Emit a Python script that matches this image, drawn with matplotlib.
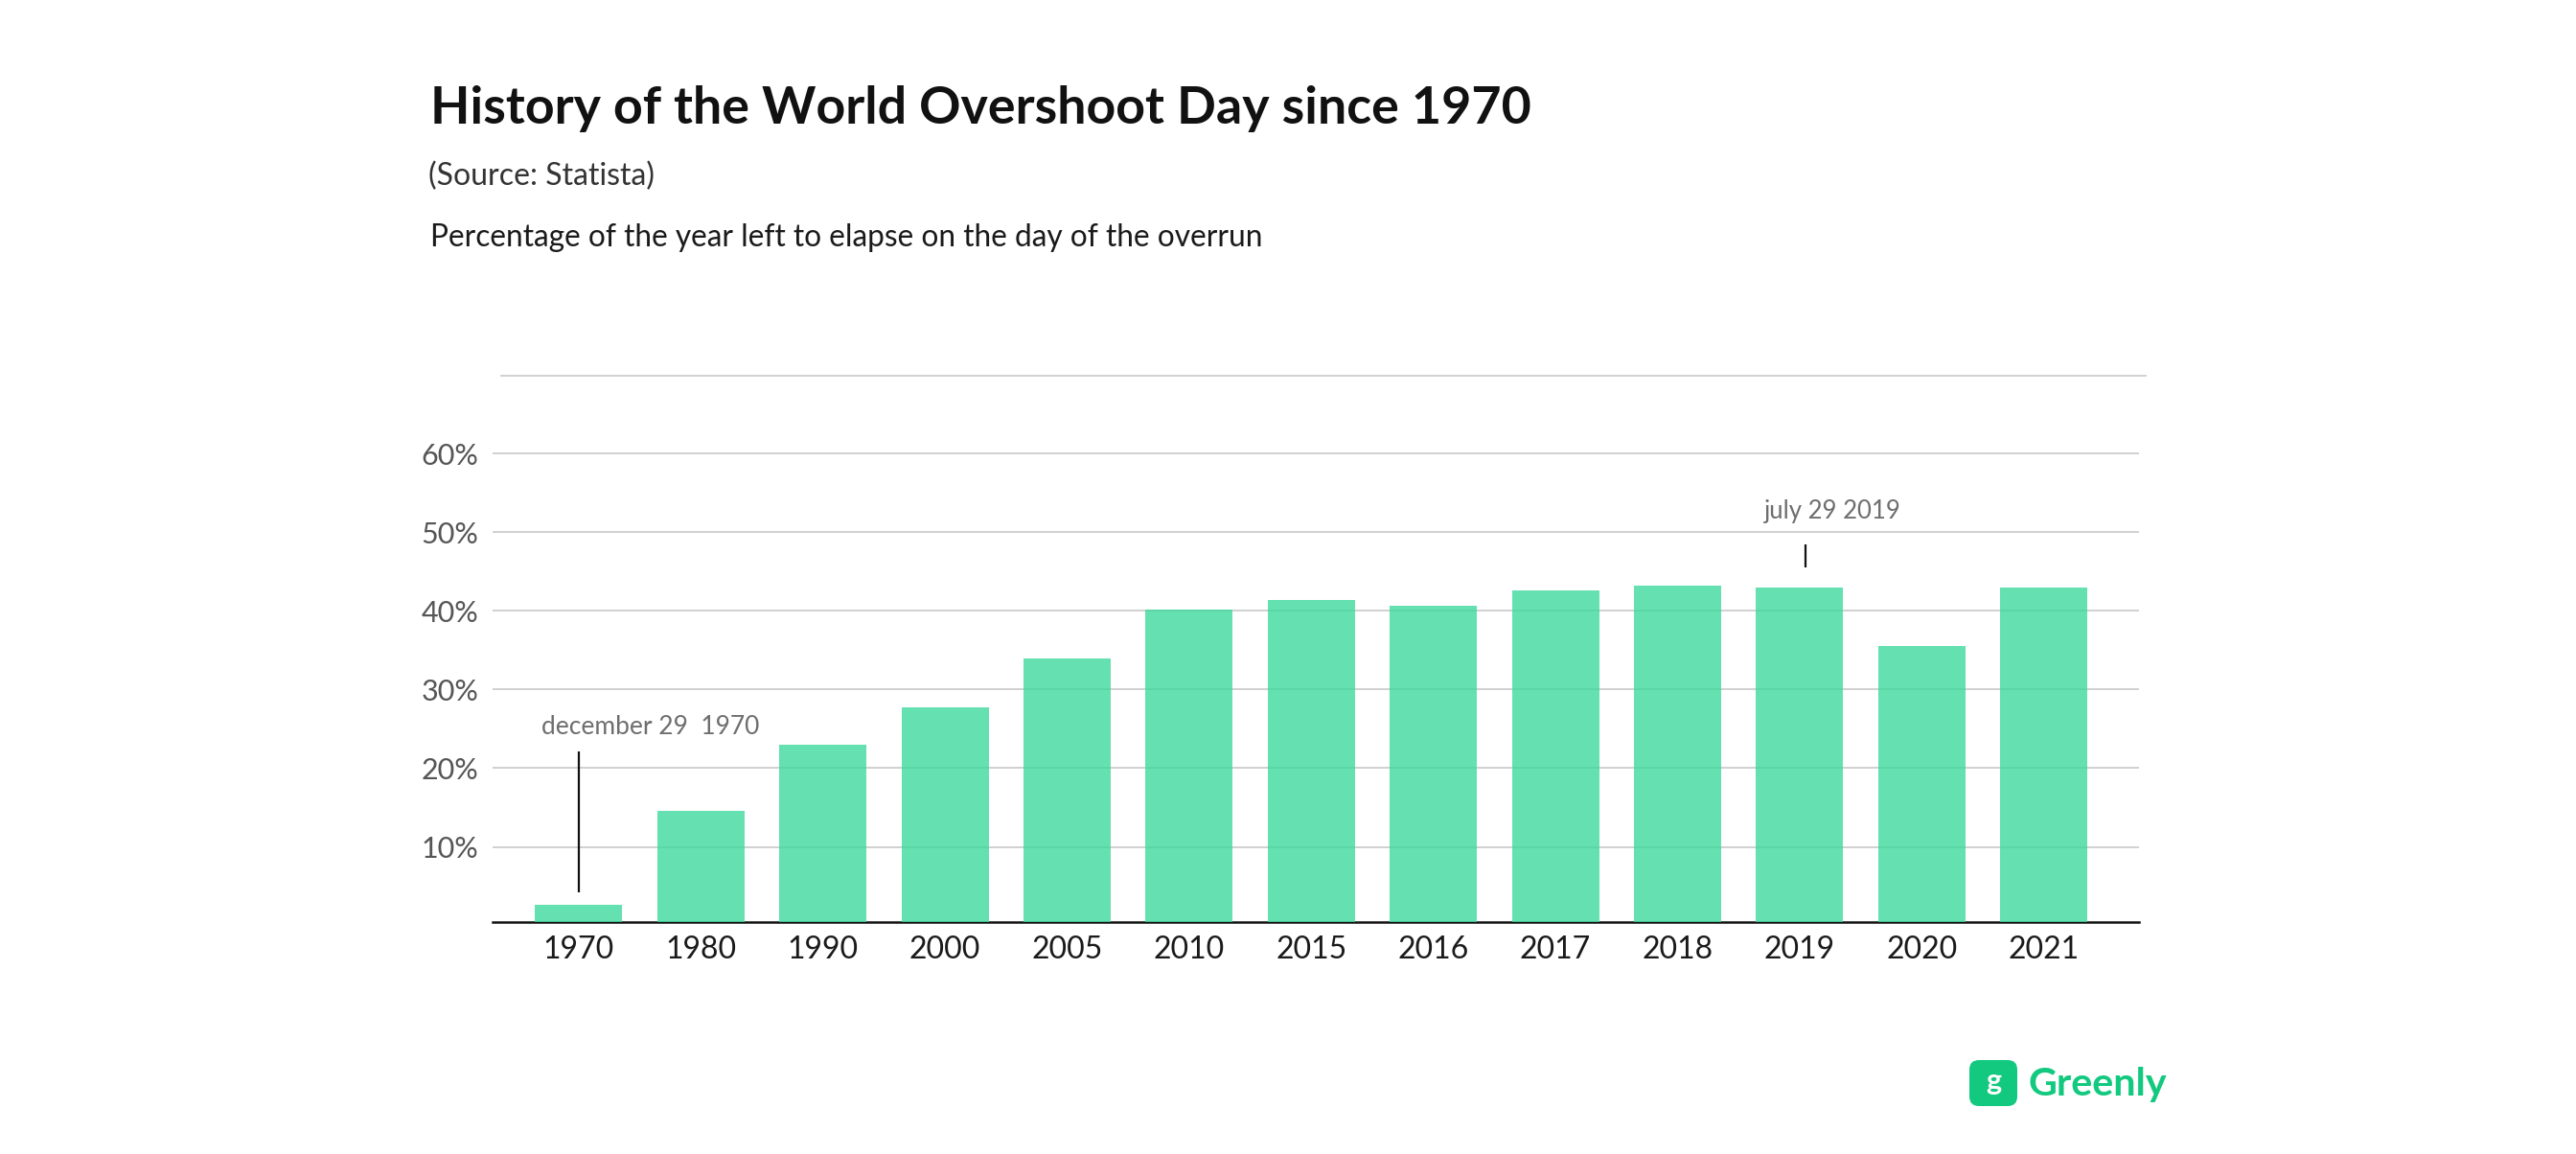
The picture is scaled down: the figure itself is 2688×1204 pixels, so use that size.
import matplotlib
matplotlib.use("Agg")
import matplotlib.pyplot as plt
from matplotlib.lines import Line2D
from matplotlib.patches import FancyBboxPatch
from matplotlib.transforms import IdentityTransform

years = ["1970", "1980", "1990", "2000", "2005", "2010", "2015", "2016", "2017", "2018", "2019", "2020", "2021"]
percent_left = [2.7, 14.6, 23.0, 27.7, 34.0, 40.1, 41.4, 40.7, 42.6, 43.2, 43.0, 35.5, 43.0]
y_ticks = [10, 20, 30, 40, 50, 60]
y_labels = ["10%", "20%", "30%", "40%", "50%", "60%"]

W, H = 2688, 1204
FONT = "Lato"

plt.rcParams["font.family"] = [FONT, "DejaVu Sans"]

fig = plt.figure(figsize=(W / 100, H / 100), dpi=100, facecolor="white")

# axes placed in pixels, same as the reference
left, right, top, bottom = 514, 2232, 391, 962
ax = fig.add_axes([left / W, 1 - bottom / H, (right - left) / W, (bottom - top) / H])
ax.set_xlim(-0.706, 12.78)
ax.set_ylim(0.45, 70)

x = list(range(len(years)))
ax.set_axisbelow(True)
ax.grid(axis="y", color="#c8c8c8", linewidth=1.2)
ax.bar(x, percent_left, width=0.715, color="#3ed99c", alpha=0.8, linewidth=0, zorder=3)

for s in ["top", "left", "right"]:
	ax.spines[s].set_visible(False)
ax.spines["bottom"].set_color("#111111")
ax.spines["bottom"].set_linewidth(1.8)

ax.set_xticks(x)
ax.set_xticklabels(years, fontsize=23, color="#1a1a1a")
ax.set_yticks(y_ticks)
ax.set_yticklabels(y_labels, fontsize=22, color="#555555")
ax.tick_params(axis="both", length=0)
ax.tick_params(axis="x", pad=10)
ax.tick_params(axis="y", pad=10.5)

# annotations
ax.vlines(0, 4.2, 22.1, color="#111111", linewidth=1.6, zorder=4)
ax.text(0.59, 25.2, "december 29  1970", fontsize=19, color="#6e6e6e", ha="center", va="center")
ax.vlines(10.05, 45.5, 48.4, color="#111111", linewidth=1.6, zorder=4)
ax.text(10.27, 52.7, "july 29 2019", fontsize=18.5, color="#6e6e6e", ha="center", va="center")

# line on top of the plot is a bit shifted from the grid
fig.add_artist(Line2D([523 / W, 2239 / W], [1 - 392 / H, 1 - 392 / H], color="#c8c8c8", linewidth=1.2))

fig.text(449 / W, 1 - 113 / H, "History of the World Overshoot Day since 1970", fontsize=38.7, fontweight="bold",
	color="#111111", ha="left", va="center")
fig.text(447 / W, 1 - 184 / H, "(Source: Statista)", fontsize=23, color="#333333", ha="left", va="center")
fig.text(449 / W, 1 - 248 / H, "Percentage of the year left to elapse on the day of the overrun", fontsize=22.8,
	color="#1a1a1a", ha="left", va="center")

# logo
box = FancyBboxPatch((2061, H - 1148), 38, 36, boxstyle="round,pad=6,rounding_size=10",
	facecolor="#12c97f", edgecolor="none")
box.set_transform(IdentityTransform())
fig.add_artist(box)
fig.text(2080 / W, 1 - 1128 / H, "g", fontsize=22, fontweight="bold", color="white", ha="center", va="center")
fig.text(2116 / W, 1 - 1131 / H, "Greenly", fontsize=29.7, fontweight="bold", color="#12c97f", ha="left", va="center")

fig.savefig("out.png", dpi=100, facecolor="white")
